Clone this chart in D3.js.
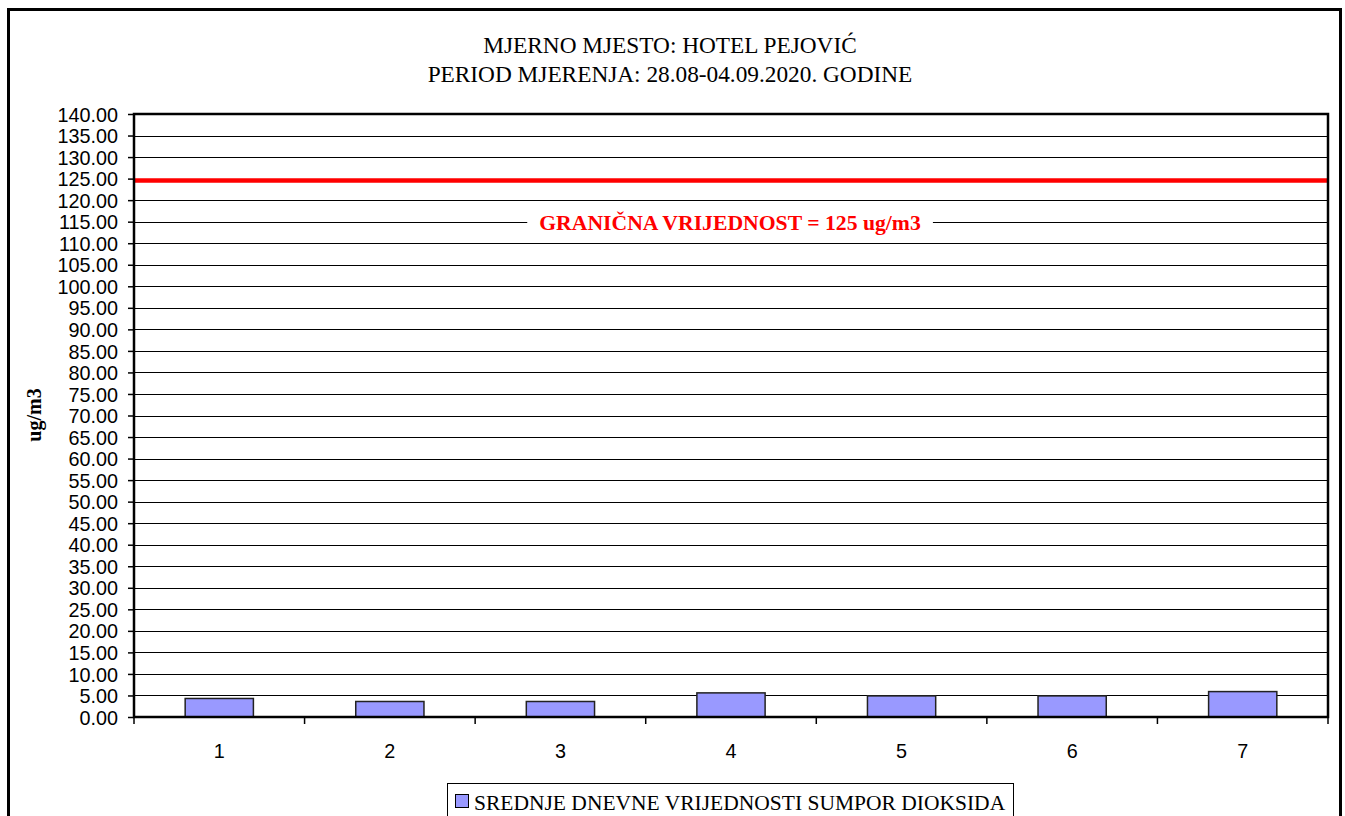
<!DOCTYPE html>
<html>
<head>
<meta charset="utf-8">
<script src="https://cdn.jsdelivr.net/npm/d3@7"></script>
<style>
  html, body { margin: 0; padding: 0; background: #fff; }
  svg { display: block; }
</style>
</head>
<body>
<svg id="chart" width="1345" height="816"></svg>
<script>
// Daily mean SO2 values per measurement day
const days = ["1", "2", "3", "4", "5", "6", "7"];
const so2Values = [4.3, 3.6, 3.6, 5.6, 4.9, 4.9, 5.9];
const limitValue = 125;
const yTicks = d3.range(0, 141, 5);
const titleLines = ["MJERNO MJESTO: HOTEL PEJOVIĆ", "PERIOD MJERENJA: 28.08-04.09.2020. GODINE"];
const limitLabel = "GRANIČNA VRIJEDNOST = 125 ug/m3";
const seriesName = "SREDNJE DNEVNE VRIJEDNOSTI SUMPOR DIOKSIDA";
const yTitle = "ug/m3";

const svg = d3.select("#chart");
const serif = "'Liberation Serif', 'Times New Roman', serif";
const sans = "'Liberation Sans', Arial, sans-serif";

const plot = { left: 134, top: 114, right: 1328, bottom: 717 };

// outer chart frame
svg.append("rect")
  .attr("x", 8.5).attr("y", 9.5)
  .attr("width", 1332).attr("height", 830)
  .attr("fill", "#fff").attr("stroke", "#000").attr("stroke-width", 3);

// title
svg.append("g").selectAll("text").data(titleLines).join("text")
  .attr("x", 670).attr("y", (d, i) => 53 + i * 29)
  .attr("text-anchor", "middle")
  .attr("font-family", serif).attr("font-size", 23.3)
  .attr("fill", "#000")
  .text(d => d);

const x = d3.scaleBand().domain(days).range([plot.left, plot.right]).padding(0);
const y = d3.scaleLinear().domain([0, 140]).range([plot.bottom, plot.top]);

// horizontal gridlines
svg.append("g").selectAll("line").data(yTicks.filter(v => v > 0 && v < 140)).join("line")
  .attr("x1", plot.left).attr("x2", plot.right)
  .attr("y1", d => Math.round(y(d)) + 0.5).attr("y2", d => Math.round(y(d)) + 0.5)
  .attr("stroke", "#000").attr("stroke-width", 1);

// y axis
const yAxis = d3.axisLeft(y).tickValues(yTicks).tickFormat(d3.format(".2f")).tickSize(6).tickPadding(10);
const yg = svg.append("g").attr("transform", `translate(${plot.left},0)`).call(yAxis);
yg.select(".domain").remove();
yg.selectAll(".tick line").attr("stroke", "#000").attr("stroke-width", 1.5);
yg.selectAll(".tick text")
  .attr("font-family", sans).attr("font-size", 19.8).attr("fill", "#000")
  .attr("dy", "0.36em");

// bars
svg.append("g").selectAll("rect").data(so2Values).join("rect")
  .attr("x", (d, i) => x(days[i]) + x.bandwidth() * 0.3)
  .attr("width", x.bandwidth() * 0.4)
  .attr("y", d => y(d))
  .attr("height", d => y(0) - y(d))
  .attr("fill", "#9999ff")
  .attr("stroke", "#222").attr("stroke-width", 1.5);

// limit line
svg.append("line")
  .attr("x1", plot.left).attr("x2", plot.right)
  .attr("y1", y(limitValue) + 2).attr("y2", y(limitValue) + 2)
  .attr("stroke", "#ff0000").attr("stroke-width", 4.5);

// limit label with a white backing that breaks the gridline
const labelGroup = svg.append("g");
const backing = labelGroup.append("rect").attr("fill", "#fff");
const lbl = labelGroup.append("text")
  .attr("x", 730).attr("y", y(115) + 8)
  .attr("text-anchor", "middle")
  .attr("font-family", serif).attr("font-size", 21.7).attr("font-weight", "bold")
  .attr("fill", "#ff0000")
  .text(limitLabel);
const bb = lbl.node().getBBox();
backing
  .attr("x", bb.x - 12).attr("y", y(115) - 4)
  .attr("width", bb.width + 24).attr("height", 8);

// plot frame
svg.append("rect")
  .attr("x", plot.left).attr("y", plot.top)
  .attr("width", plot.right - plot.left).attr("height", plot.bottom - plot.top)
  .attr("fill", "none").attr("stroke", "#000").attr("stroke-width", 2.5);

// x axis: ticks at category boundaries, labels centred
const bounds = days.map(d => x(d)).concat([plot.right]);
svg.append("g").selectAll("line").data(bounds).join("line")
  .attr("x1", d => d).attr("x2", d => d)
  .attr("y1", plot.bottom).attr("y2", plot.bottom + 7)
  .attr("stroke", "#000").attr("stroke-width", 1.5);
svg.append("g").selectAll("text").data(days).join("text")
  .attr("x", d => x(d) + x.bandwidth() / 2)
  .attr("y", 758)
  .attr("text-anchor", "middle")
  .attr("font-family", sans).attr("font-size", 19.8).attr("fill", "#000")
  .text(d => d);

// y axis title
svg.append("text")
  .attr("transform", "translate(41,415) rotate(-90)")
  .attr("text-anchor", "middle")
  .attr("font-family", serif).attr("font-size", 20).attr("font-weight", "bold")
  .attr("fill", "#000")
  .text(yTitle);

// legend
const lg = svg.append("g");
lg.append("rect")
  .attr("x", 447.5).attr("y", 783.5).attr("width", 566).attr("height", 45)
  .attr("fill", "#fff").attr("stroke", "#000").attr("stroke-width", 1);
lg.append("rect")
  .attr("x", 455.5).attr("y", 794.5).attr("width", 13).attr("height", 13)
  .attr("fill", "#9999ff").attr("stroke", "#000").attr("stroke-width", 1);
lg.append("text")
  .attr("x", 474).attr("y", 810)
  .attr("font-family", serif).attr("font-size", 21.5).attr("fill", "#000")
  .text(seriesName);
</script>
</body>
</html>
